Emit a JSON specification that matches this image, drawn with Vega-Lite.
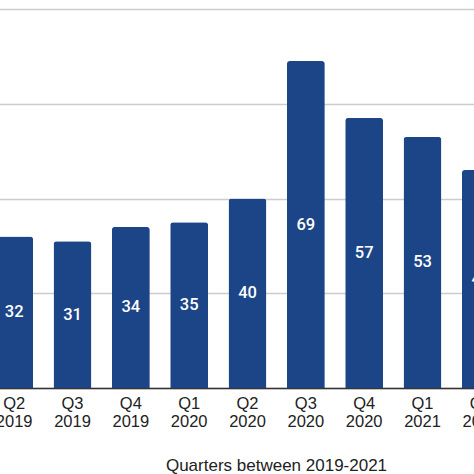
{
  "$schema": "https://vega.github.io/schema/vega-lite/v6.json",
  "description": "Quarterly values between 2019 and 2021 (cropped view)",
  "width": 474,
  "height": 379,
  "autosize": {"type": "none"},
  "padding": {"top": 9, "left": 0, "right": 0, "bottom": 86},
  "background": "white",
  "config": {"view": {"stroke": null}},
  "data": {
    "values": [
      {"quarter": "Q2 2019", "value": 32},
      {"quarter": "Q3 2019", "value": 31},
      {"quarter": "Q4 2019", "value": 34},
      {"quarter": "Q1 2020", "value": 35},
      {"quarter": "Q2 2020", "value": 40},
      {"quarter": "Q3 2020", "value": 69},
      {"quarter": "Q4 2020", "value": 57},
      {"quarter": "Q1 2021", "value": 53},
      {"quarter": "Q2 2021", "value": 46}
    ]
  },
  "transform": [
    {"calculate": "datum.value / 2", "as": "mid"}
  ],
  "encoding": {
    "x": {
      "field": "quarter",
      "type": "ordinal",
      "sort": null,
      "scale": {"range": [-15, 510], "paddingInner": 0.35, "paddingOuter": 0.175},
      "axis": {
        "title": "Quarters between 2019-2021",
        "labelAngle": 0,
        "labelExpr": "split(datum.label, ' ')",
        "labelFont": "Liberation Sans",
        "labelFontSize": 16.5,
        "labelColor": "#222222",
        "labelLineHeight": 18,
        "labelPadding": 7,
        "labelOverlap": false,
        "ticks": false,
        "domainColor": "#333333",
        "domainWidth": 1.5,
        "titleFont": "Liberation Sans",
        "titleFontSize": 17,
        "titleFontWeight": "normal",
        "titleColor": "#222222",
        "titleX": 276,
        "titleY": 77,
        "titleAlign": "center",
        "titleBaseline": "middle"
      }
    }
  },
  "layer": [
    {
      "mark": {"type": "bar", "color": "#1c4587", "cornerRadiusTopLeft": 3, "cornerRadiusTopRight": 3},
      "encoding": {
        "y": {
          "field": "value",
          "type": "quantitative",
          "scale": {"domain": [0, 80], "nice": false},
          "axis": {
            "title": null,
            "values": [0, 20, 40, 60, 80],
            "labels": false,
            "ticks": false,
            "domain": false,
            "gridColor": "#cccccc",
            "gridWidth": 1.5
          }
        }
      }
    },
    {
      "mark": {"type": "text", "color": "white", "font": "Roboto", "fontSize": 16.5, "fontWeight": 500, "baseline": "middle"},
      "encoding": {
        "y": {"field": "mid", "type": "quantitative"},
        "text": {"field": "value", "type": "quantitative"}
      }
    }
  ]
}
